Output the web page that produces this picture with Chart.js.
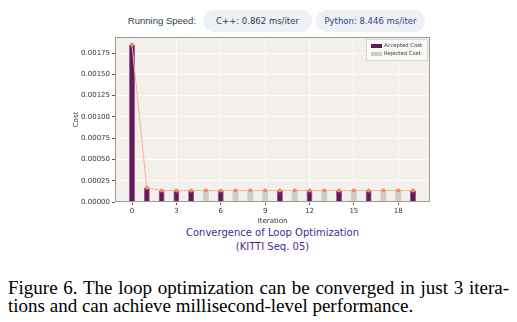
<!DOCTYPE html>
<html>
<head>
<meta charset="utf-8">
<script src="https://cdn.jsdelivr.net/npm/chart.js@4.4.1/dist/chart.umd.min.js"></script>
<style>
  body { margin: 0; background: #fff; width: 517px; height: 322px; overflow: hidden; position: relative; font-family: "DejaVu Sans", sans-serif; }
  #wrap { position: absolute; left: 0; top: 0; width: 517px; height: 225px; }
  .hdr { position: absolute; top: 10px; height: 22px; line-height: 22px; font-size: 8.5px; color: #2c3e50; }
  .pill { background: #edf1f5; border-radius: 11px; text-align: center; }
  #title { position: absolute; left: 0; width: 545px; top: 226px; text-align: center; font-size: 10px; line-height: 14px; color: #4a2a8e; }
  .cap { position: absolute; left: 8px; width: 501px; font-family: "Liberation Serif", serif; font-size: 19px; line-height: 19px; color: #000; white-space: nowrap; }
</style>
</head>
<body>
<div class="hdr" style="left:120px; width:76px; text-align:right; font-family:'Liberation Sans', sans-serif; font-size:9.5px;">Running Speed:</div>
<div class="hdr pill" style="left:203px; width:109px;">C++: 0.862 ms/iter</div>
<div class="hdr pill" style="left:316px; width:109px; color:#2d3f8e;">Python: 8.446 ms/iter</div>
<div id="wrap"><canvas id="costChart"></canvas></div>
<div id="title">Convergence of Loop Optimization<br>(KITTI Seq. 05)</div>
<div class="cap" style="top:278px; text-align:justify; text-align-last:justify;">Figure 6. The loop optimization can be converged in just 3 itera-</div>
<div class="cap" style="top:296px;">tions and can achieve millisecond-level performance.</div>
<script>
// iterations and cost per iteration
const iterations = [0, 1, 2, 3, 4, 5, 6, 7, 8, 9, 10, 11, 12, 13, 14, 15, 16, 17, 18, 19];
const costs = [0.00185, 0.000168, 0.000135, 0.000135, 0.000135, 0.000135, 0.000135, 0.000135, 0.000135, 0.000135,
               0.000135, 0.000135, 0.000135, 0.000135, 0.000135, 0.000135, 0.000135, 0.000135, 0.000135, 0.000135];
const accepted = [0, 1, 2, 3, 4, 6, 10, 12, 14, 16, 19];
const xTicks = [0, 3, 6, 9, 12, 15, 18];
const yTicks = [0, 0.00025, 0.0005, 0.00075, 0.001, 0.00125, 0.0015, 0.00175];

const accData = iterations.filter(i => accepted.includes(i)).map(i => ({ x: i, y: costs[i] }));
const rejData = iterations.filter(i => !accepted.includes(i)).map(i => ({ x: i, y: costs[i] }));
const lineData = iterations.map(i => ({ x: i, y: costs[i] }));

// plot background, frame and legend box inside the axes
const framePlugin = {
    id: 'frame',
    beforeDraw(chart) {
        const { ctx, chartArea: a } = chart;
        ctx.save();
        ctx.fillStyle = '#f3f0eb';
        ctx.fillRect(a.left, a.top, a.right - a.left, a.bottom - a.top);
        ctx.restore();
    },
    afterDraw(chart) {
        const { ctx, chartArea: a } = chart;
        ctx.save();
        ctx.strokeStyle = '#9a9a9a';
        ctx.lineWidth = 1;
        ctx.strokeRect(a.left + 0.5, a.top + 0.5, a.right - a.left - 1, a.bottom - a.top - 1);
        // legend
        const lx = a.right - 64, ly = a.top + 2;
        ctx.fillStyle = 'rgba(250,249,247,0.9)';
        ctx.strokeStyle = '#d6d6d6';
        ctx.fillRect(lx, ly, 61, 21);
        ctx.strokeRect(lx + 0.5, ly + 0.5, 61, 21);
        ctx.font = '5.3px "DejaVu Sans"';
        ctx.textBaseline = 'middle';
        chart.data.datasets.filter(d => d.type !== 'line').forEach((d, k) => {
            ctx.fillStyle = d.backgroundColor;
            ctx.fillRect(lx + 5, ly + 5 + k * 8, 11, 4);
            ctx.fillStyle = '#333';
            ctx.fillText(d.label, lx + 18, ly + 7 + k * 8);
        });
        ctx.restore();
    }
};

const ctx = document.getElementById('costChart').getContext('2d');
const chart = new Chart(ctx, {
    data: {
        datasets: [{
            type: 'line',
            label: 'Cost',
            data: lineData,
            borderColor: '#f6b59a',
            borderWidth: 1,
            pointRadius: 2,
            pointBackgroundColor: '#f4875e',
            pointBorderWidth: 0,
            order: 0
        }, {
            type: 'bar',
            label: 'Accepted Cost',
            data: accData,
            backgroundColor: '#621a58',
            borderColor: '#8c4a82',
            borderWidth: 0.8,
            grouped: false,
            barPercentage: 0.4,
            categoryPercentage: 1,
            order: 1
        }, {
            type: 'bar',
            label: 'Rejected Cost',
            data: rejData,
            backgroundColor: '#cfccc9',
            borderWidth: 0,
            grouped: false,
            barPercentage: 0.4,
            categoryPercentage: 1,
            order: 2
        }]
    },
    options: {
        responsive: true,
        maintainAspectRatio: false,
        animation: false,
        layout: { padding: { left: 72, right: 87, top: 37, bottom: 0 } },
        plugins: { legend: { display: false }, tooltip: { enabled: false } },
        scales: {
            x: {
                type: 'linear',
                offset: false,
                min: -1.15,
                max: 20.15,
                afterBuildTicks: s => { s.ticks = xTicks.map(v => ({ value: v })); },
                afterFit: s => { s.height = 23; },
                grid: { offset: false, color: 'rgba(255,255,255,0.7)', tickColor: '#555', tickLength: 3 },
                border: { display: false },
                ticks: { font: { size: 7, family: 'DejaVu Sans' }, color: '#333', padding: 2, maxRotation: 0 },
                title: { display: true, text: 'Iteration', font: { size: 7, family: 'DejaVu Sans' }, color: '#333', padding: 0 }
            },
            y: {
                min: 0,
                max: 0.00194,
                afterBuildTicks: s => { s.ticks = yTicks.map(v => ({ value: v })); },
                afterFit: s => { s.width = 43; },
                grid: { color: 'rgba(255,255,255,0.7)', tickColor: '#555', tickLength: 3 },
                border: { display: false },
                ticks: { font: { size: 7, family: 'DejaVu Sans' }, color: '#333', padding: 2, callback: v => v.toFixed(5) },
                title: { display: true, text: 'Cost', font: { size: 7, family: 'DejaVu Sans' }, color: '#333', padding: 0 }
            }
        }
    },
    plugins: [framePlugin]
});
</script>
</body>
</html>
